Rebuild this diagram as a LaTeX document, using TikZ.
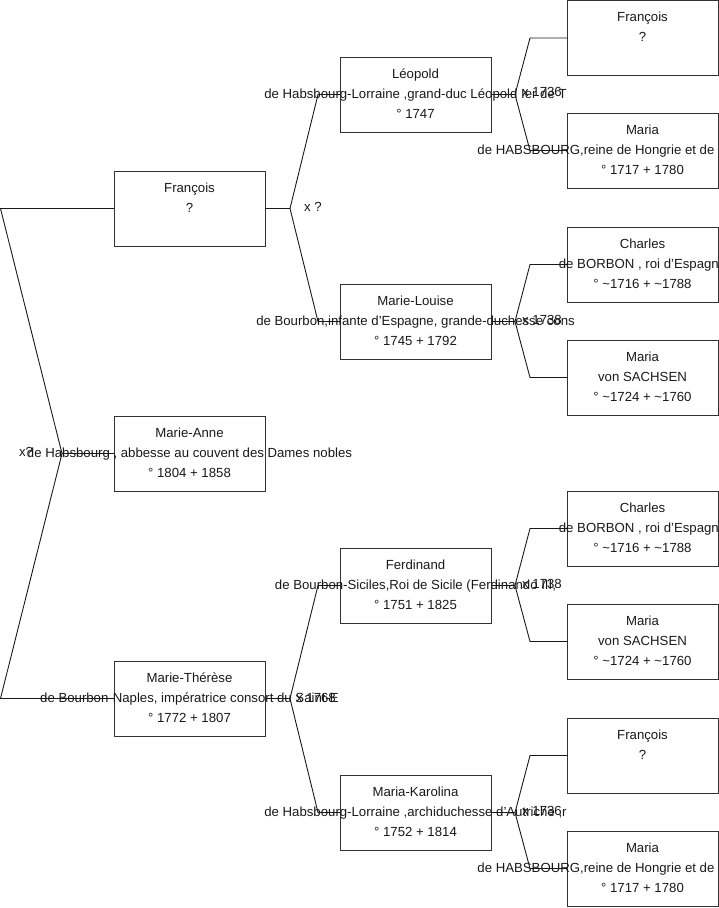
\documentclass[tikz,border=0pt]{standalone}
\usepackage{fontspec}
\setmainfont{Liberation Sans}
\newcommand\fsz{\fontsize{13.2bp}{20bp}\selectfont}
\tikzset{
  pbox/.style={draw=black!80, line width=1bp, rectangle, minimum width=151bp, minimum height=75bp,
    inner sep=0pt, outer sep=0pt, anchor=north west},
  ptxt/.style={anchor=north, align=center, inner sep=0pt, outer sep=0pt, font=\fsz, text=black!90},
  mlbl/.style={inner sep=0pt, font=\fsz, text=black!90},
  conn/.style={draw=black!90, line width=0.9bp}
}
\begin{document}
\begin{tikzpicture}[x=1bp,y=-1bp]
\useasboundingbox (0,0) rectangle (719,908);
\clip (0,0) rectangle (719,908);
% column 1
\node[pbox] (F1) at (114,171) {};
\node[pbox] (MA) at (114,416) {};
\node[pbox] (MT) at (114,661) {};
% column 2
\node[pbox] (L)  at (340,57) {};
\node[pbox] (ML) at (340,284) {};
\node[pbox] (Fe) at (340,548) {};
\node[pbox] (MK) at (340,775) {};
% column 3
\node[pbox] (A1) at (567,0.5) {};
\node[pbox] (A2) at (567,113) {};
\node[pbox] (A3) at (567,227) {};
\node[pbox] (A4) at (567,340) {};
\node[pbox] (A5) at (567,491) {};
\node[pbox] (A6) at (567,604) {};
\node[pbox] (A7) at (567,718) {};
\node[pbox] (A8) at (567,831) {};
% texts
\node[ptxt] (tF1) at ([yshift=-7bp]F1.north) {\strut François\\?};
\node[ptxt] (tMA) at ([yshift=-7bp]MA.north) {\strut Marie-Anne\\de Habsbourg , abbesse au couvent des Dames nobles\\° 1804 + 1858};
\node[ptxt] (tMT) at ([yshift=-7bp]MT.north) {\strut Marie-Thérèse\\de Bourbon-Naples, impératrice consort du Saint-E\\° 1772 + 1807};
\node[ptxt] (tL) at ([yshift=-7bp]L.north) {\strut Léopold\\de Habsbourg-Lorraine ,grand-duc Léopold Ier de T\\° 1747};
\node[ptxt] (tML) at ([yshift=-7bp]ML.north) {\strut Marie-Louise\\de Bourbon,infante d'Espagne, grande-duchesse cons\\° 1745 + 1792};
\node[ptxt] (tFe) at ([yshift=-7bp]Fe.north) {\strut Ferdinand\\de Bourbon-Siciles,Roi de Sicile (Ferdinando III,\\° 1751 + 1825};
\node[ptxt] (tMK) at ([yshift=-7bp]MK.north) {\strut Maria-Karolina\\de Habsbourg-Lorraine ,archiduchesse d'Autriche ,r\\° 1752 + 1814};
\node[ptxt] (tA1) at ([yshift=-6.5bp]A1.north) {\strut François\\?};
\node[ptxt] (tA2) at ([yshift=-7bp]A2.north) {\strut Maria\\de HABSBOURG,reine de Hongrie et de Bohême, impér\\° 1717 + 1780};
\node[ptxt] (tA3) at ([yshift=-7bp]A3.north) {\strut Charles\\de BORBON , roi d'Espagne\\° \textasciitilde1716 + \textasciitilde1788};
\node[ptxt] (tA4) at ([yshift=-7bp]A4.north) {\strut Maria\\von SACHSEN\\° \textasciitilde1724 + \textasciitilde1760};
\node[ptxt] (tA5) at ([yshift=-7bp]A5.north) {\strut Charles\\de BORBON , roi d'Espagne\\° \textasciitilde1716 + \textasciitilde1788};
\node[ptxt] (tA6) at ([yshift=-7bp]A6.north) {\strut Maria\\von SACHSEN\\° \textasciitilde1724 + \textasciitilde1760};
\node[ptxt] (tA7) at ([yshift=-7bp]A7.north) {\strut François\\?};
\node[ptxt] (tA8) at ([yshift=-7bp]A8.north) {\strut Maria\\de HABSBOURG,reine de Hongrie et de Bohême, impér\\° 1717 + 1780};
% junctions
\coordinate (rx) at (0.5,0);
\coordinate (j0) at (62,453.5);
\coordinate (j1) at (290,208.5);
\coordinate (j2) at (290,698.5);
\coordinate (k1) at (515,94.5);
\coordinate (k2) at (515,321.5);
\coordinate (k3) at (515,585.5);
\coordinate (k4) at (515,812.5);
% marriage labels
\node[mlbl] (m0) at (26,452) {x?};
\node[mlbl, anchor=west] (m1) at (304,207) {x ?};
\node[mlbl, anchor=west] (m2) at (296,698) {x 1768};
\node[mlbl, anchor=east] (m3) at (562,92) {x 1736};
\node[mlbl, anchor=east] (m4) at (562,320) {x 1738};
\node[mlbl, anchor=east] (m5) at (562,584) {x 1738};
\node[mlbl, anchor=east] (m6) at (562,811) {x 1736};
% connectors
\draw[conn] (F1.west) -- (F1.west -| rx) -- (j0) -- (MT.west -| rx) -- (MT.west);
\draw[conn] (j0) -- (MA.west);
\draw[conn] (F1.east) -- (j1) -- ([xshift=-22bp]L.west) -- (L.west);
\draw[conn] (j1) -- ([xshift=-22bp]ML.west) -- (ML.west);
\draw[conn] (MT.east) -- (j2) -- ([xshift=-22bp]Fe.west) -- (Fe.west);
\draw[conn] (j2) -- ([xshift=-22bp]MK.west) -- (MK.west);
\draw[conn] (L.east) -- (k1) -- ([xshift=-37bp]A1.west) -- (A1.west);
\draw[conn] (k1) -- ([xshift=-37bp]A2.west) -- (A2.west);
\draw[conn] (ML.east) -- (k2) -- ([xshift=-37bp]A3.west) -- (A3.west);
\draw[conn] (k2) -- ([xshift=-37bp]A4.west) -- (A4.west);
\draw[conn] (Fe.east) -- (k3) -- ([xshift=-37bp]A5.west) -- (A5.west);
\draw[conn] (k3) -- ([xshift=-37bp]A6.west) -- (A6.west);
\draw[conn] (MK.east) -- (k4) -- ([xshift=-37bp]A7.west) -- (A7.west);
\draw[conn] (k4) -- ([xshift=-37bp]A8.west) -- (A8.west);
\end{tikzpicture}
\end{document}
